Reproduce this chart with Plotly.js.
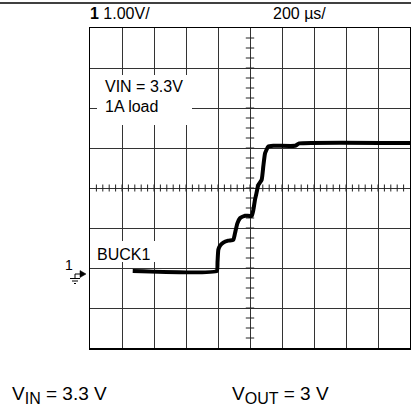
<!DOCTYPE html>
<html>
<head>
<meta charset="utf-8">
<script src="https://cdn.plot.ly/plotly-3.0.1.min.js"></script>
<style>html,body{margin:0;padding:0;background:#fff;}#chart{width:411px;height:411px;}</style>
</head>
<body>
<div id="chart"></div>
<script>
// ---- data (read from the scope capture) ----
const time_us = [267, 792, 797, 802, 812, 833, 864, 896, 906, 921, 937, 969, 1011, 1021, 1031, 1038, 1052, 1073, 1083, 1094, 1114, 1146, 1281, 1308, 2000];
const volts   = [0, 0, 0.22, 0.53, 0.63, 0.71, 0.76, 0.78, 0.94, 1.19, 1.32, 1.38, 1.38, 1.53, 1.78, 1.9, 2.15, 2.28, 2.61, 2.94, 3.11, 3.13, 3.13, 3.19, 3.2];
const traceName = "BUCK1";
const chScale = "1.00V/";
const timeScale = "200 µs/";
const noteLines = ["VIN = 3.3V", "1A load"];
const vinLabel = "3.3 V";
const voutLabel = "3 V";

// ---- layout helpers (pixel -> paper) ----
const L = 90, T = 28, W = 320, H = 320;
const px = X => (X - L) / W;
const py = Y => (T + H - Y) / H;

// scope graticule minor ticks along centre lines
const xRange = [0, 2000], yRange = [-1.925, 6.075];
const xCenter = 1000, yCenter = 2.075;
const hx = [], hy = [], vx = [], vy = [];
for (let t = xRange[0] + 40; t < xRange[1] - 1; t += 40) { hx.push(t); hy.push(yCenter); }
for (let v = yRange[0] + 0.25; v < yRange[1] - 0.01; v += 0.25) { vx.push(xCenter); vy.push(v); }

const traces = [
  {x: hx, y: hy, mode: 'markers', hoverinfo: 'skip', showlegend: false,
   marker: {symbol: 'line-ns', size: 5, line: {width: 1, color: '#222'}}},
  {x: vx, y: vy, mode: 'markers', hoverinfo: 'skip', showlegend: false,
   marker: {symbol: 'line-ew', size: 6, line: {width: 1, color: '#222'}}},
  {x: time_us, y: volts, mode: 'lines', name: traceName, showlegend: false,
   line: {color: '#000', width: 4, shape: 'spline', smoothing: 0.4}}
];

const font = {family: 'Liberation Sans, Arial, sans-serif', color: '#000'};
const f = s => Object.assign({}, font, {size: s});

const layout = {
  width: 411, height: 411,
  margin: {l: L, r: 411 - L - W, t: T, b: 411 - T - H, pad: 0},
  paper_bgcolor: '#fff', plot_bgcolor: '#fff',
  showlegend: false,
  xaxis: {range: xRange, dtick: 200, tick0: 0, showgrid: true, gridcolor: '#333', gridwidth: 1,
          zeroline: false, showticklabels: false, ticks: '', showline: true, mirror: true,
          linecolor: '#000', linewidth: 1.5, fixedrange: true},
  yaxis: {range: yRange, dtick: 1, tick0: 0.075, showgrid: true, gridcolor: '#333', gridwidth: 1,
          zeroline: false, showticklabels: false, ticks: '', showline: true, mirror: true,
          linecolor: '#000', linewidth: 1.5, fixedrange: true},
  shapes: [
    {type: 'line', xref: 'paper', yref: 'paper', x0: px(0), x1: px(411), y0: py(3), y1: py(3),
     line: {color: '#000', width: 1.5}},
    {type: 'rect', xref: 'paper', yref: 'paper', layer: 'above', x0: px(97), x1: px(192), y0: py(125), y1: py(75),
     fillcolor: '#fff', line: {width: 0}},
    {type: 'rect', xref: 'paper', yref: 'paper', layer: 'above', x0: px(92), x1: px(160), y0: py(262), y1: py(241),
     fillcolor: '#fff', line: {width: 0}},
    {type: 'line', xref: 'paper', yref: 'paper', x0: px(75), x1: px(81), y0: py(274), y1: py(274), line: {color: '#000', width: 1}},
    {type: 'path', xref: 'paper', yref: 'paper', path: `M${px(80)},${py(270.5)} L${px(86)},${py(274)} L${px(80)},${py(277.5)} Z`,
     fillcolor: '#000', line: {color: '#000', width: 0.5}},
    {type: 'line', xref: 'paper', yref: 'paper', x0: px(75), x1: px(75), y0: py(274), y1: py(278.5), line: {color: '#000', width: 1}},
    {type: 'line', xref: 'paper', yref: 'paper', x0: px(70), x1: px(80), y0: py(278.5), y1: py(278.5), line: {color: '#000', width: 1}},
    {type: 'line', xref: 'paper', yref: 'paper', x0: px(72), x1: px(78), y0: py(281), y1: py(281), line: {color: '#000', width: 1}},
    {type: 'line', xref: 'paper', yref: 'paper', x0: px(74), x1: px(76), y0: py(283.5), y1: py(283.5), line: {color: '#000', width: 1}}
  ],
  annotations: [
    {xref: 'paper', yref: 'paper', x: px(89), y: py(13), xanchor: 'left', yanchor: 'middle', showarrow: false, borderpad: 0,
     text: '<b>1</b> ' + chScale, font: f(16)},
    {xref: 'paper', yref: 'paper', x: px(272), y: py(13), xanchor: 'left', yanchor: 'middle', showarrow: false, borderpad: 0,
     text: timeScale, font: f(16)},
    {xref: 'paper', yref: 'paper', x: px(104), y: py(87), xanchor: 'left', yanchor: 'middle', showarrow: false, borderpad: 0,
     text: noteLines[0], font: f(16)},
    {xref: 'paper', yref: 'paper', x: px(104), y: py(106), xanchor: 'left', yanchor: 'middle', showarrow: false, borderpad: 0,
     text: noteLines[1], font: f(16)},
    {xref: 'paper', yref: 'paper', x: px(96), y: py(254), xanchor: 'left', yanchor: 'middle', showarrow: false, borderpad: 0,
     text: traceName, font: f(16)},
    {xref: 'paper', yref: 'paper', x: px(69), y: py(265), xanchor: 'center', yanchor: 'middle', showarrow: false, borderpad: 0,
     text: '1', font: f(14)},
    {xref: 'paper', yref: 'paper', x: px(11), y: py(395), xanchor: 'left', yanchor: 'middle', showarrow: false, borderpad: 0,
     text: 'V<sub><span style="font-size:16px">IN</span></sub> = ' + vinLabel, font: f(19)},
    {xref: 'paper', yref: 'paper', x: px(231), y: py(395), xanchor: 'left', yanchor: 'middle', showarrow: false, borderpad: 0,
     text: 'V<sub><span style="font-size:16px">OUT</span></sub> = ' + voutLabel, font: f(19)}
  ]
};

Plotly.newPlot('chart', traces, layout, {staticPlot: true, displayModeBar: false});
</script>
</body>
</html>
